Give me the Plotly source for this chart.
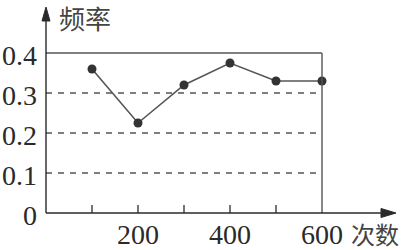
import plotly.graph_objects as go

# Data
trials = [100, 200, 300, 400, 500, 600]
freq = [0.36, 0.225, 0.32, 0.375, 0.33, 0.33]
x_tick_vals = [200, 400, 600]
x_tick_text = ["200", "400", "600"]
y_tick_vals = [0, 0.1, 0.2, 0.3, 0.4]
y_tick_text = ["0", "0.1", "0.2", "0.3", "0.4"]
minor_ticks = [100, 200, 300, 400, 500]
dash_levels = [0.1, 0.2, 0.3]
x_title = "次数"
y_title = "频率"

W, H = 409, 250
X0PX, Y0PX = 46, 213      # pixel position of origin
PX_PER_X = 0.46           # pixels per unit on x
PX_PER_Y = 400            # pixels per unit on y

xr = [-X0PX / PX_PER_X, (W - X0PX) / PX_PER_X]
yr = [-(H - Y0PX) / PX_PER_Y, Y0PX / PX_PER_Y]

def px2x(p):
    return (p - X0PX) / PX_PER_X

def px2y(p):
    return (Y0PX - p) / PX_PER_Y

ink = "#2a2a2a"
line_col = "#555555"
serif = "Liberation Serif"
cjk = "Noto Sans CJK SC"

fig = go.Figure()
fig.add_trace(go.Scatter(
    x=trials, y=freq, mode="lines+markers",
    line=dict(color=line_col, width=1.6),
    marker=dict(color="#333333", size=9),
    hoverinfo="skip", showlegend=False,
))

shapes = []
# dashed grid lines
for lv in dash_levels:
    shapes.append(dict(type="line", x0=0, x1=600, y0=lv, y1=lv,
                       line=dict(color=line_col, width=1.4, dash="6px,6px")))
# top solid line and right vertical line
shapes.append(dict(type="line", x0=0, x1=600, y0=0.4, y1=0.4,
                   line=dict(color=line_col, width=1.4)))
shapes.append(dict(type="line", x0=600, x1=600, y0=0, y1=0.4,
                   line=dict(color=line_col, width=1.4)))
# axes
shapes.append(dict(type="line", x0=0, x1=px2x(385), y0=0, y1=0,
                   line=dict(color=ink, width=1.4)))
shapes.append(dict(type="line", x0=0, x1=0, y0=0, y1=px2y(18),
                   line=dict(color=ink, width=1.4)))
# arrowheads
shapes.append(dict(type="path",
                   path=f"M {px2x(46)},{px2y(7)} L {px2x(42)},{px2y(21)} L {px2x(50)},{px2y(21)} Z",
                   fillcolor=ink, line=dict(color=ink, width=1)))
shapes.append(dict(type="path",
                   path=f"M {px2x(396)},{px2y(213)} L {px2x(381)},{px2y(208.5)} L {px2x(381)},{px2y(217.5)} Z",
                   fillcolor=ink, line=dict(color=ink, width=1)))
# x tick marks
for t in minor_ticks:
    shapes.append(dict(type="line", x0=t, x1=t, y0=0, y1=8 / PX_PER_Y,
                       line=dict(color=ink, width=1.3)))

annotations = []
for v, txt in zip(y_tick_vals, y_tick_text):
    annotations.append(dict(x=px2x(39), y=v, text=txt, showarrow=False,
                            xanchor="right", yanchor="middle", yshift=-2,
                            font=dict(family=serif, size=28, color=ink)))
for v, txt in zip(x_tick_vals, x_tick_text):
    annotations.append(dict(x=v, y=px2y(234), text=txt, showarrow=False,
                            xanchor="center", yanchor="middle",
                            font=dict(family=serif, size=28, color=ink)))
annotations.append(dict(x=px2x(57), y=px2y(17), text=y_title, showarrow=False,
                        xanchor="left", yanchor="middle",
                        font=dict(family=cjk, size=26, color="#444444")))
annotations.append(dict(x=px2x(350), y=px2y(233), text=x_title, showarrow=False,
                        xanchor="left", yanchor="middle", borderpad=0,
                        font=dict(family=cjk, size=24, color="#444444")))

fig.update_layout(
    width=W, height=H,
    margin=dict(l=0, r=0, t=0, b=0),
    paper_bgcolor="white", plot_bgcolor="white",
    font=dict(family=serif),
    xaxis=dict(range=xr, visible=False, fixedrange=True),
    yaxis=dict(range=yr, visible=False, fixedrange=True),
    shapes=shapes, annotations=annotations,
)

fig.write_html("out.html")
